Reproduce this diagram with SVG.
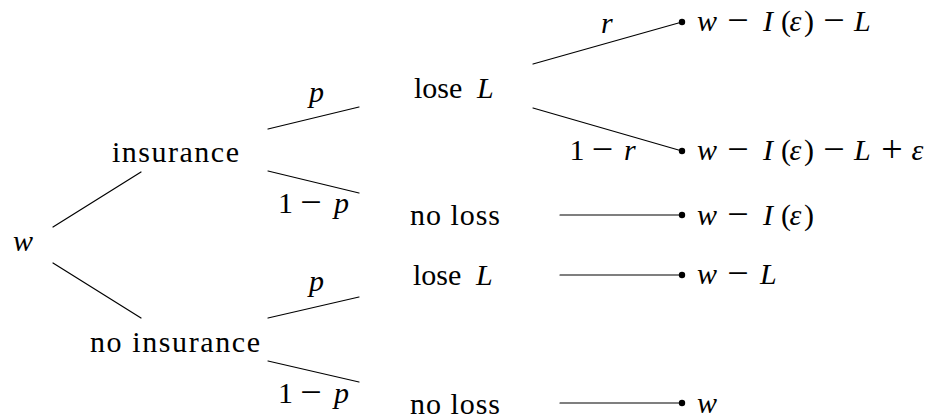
<svg xmlns="http://www.w3.org/2000/svg" width="932" height="420" viewBox="0 0 932 420">
<style>
text { font-family: "Liberation Serif", "Times New Roman", serif; font-size: 30px; fill: #000; }
.it { font-style: italic; }
.op { font-size: 38px; }
.edge { stroke: #000; stroke-width: 1.2; fill: none; stroke-linecap: round; }
.dot { fill: #000; }
</style>
<rect width="932" height="420" fill="#fff"/>
<g id="connectors">
  <line class="edge" x1="53" y1="227" x2="141" y2="172"/>
  <line class="edge" x1="53" y1="263" x2="141" y2="318"/>
  <line class="edge" x1="268" y1="129" x2="359" y2="107"/>
  <line class="edge" x1="268" y1="171" x2="359" y2="193"/>
  <line class="edge" x1="268" y1="318" x2="359" y2="297"/>
  <line class="edge" x1="268" y1="361" x2="359" y2="382"/>
  <line class="edge" x1="533" y1="64" x2="682" y2="22"/>
  <line class="edge" x1="533" y1="108" x2="682" y2="151"/>
  <line class="edge" x1="560" y1="215" x2="682" y2="215"/>
  <line class="edge" x1="560" y1="275" x2="682" y2="275"/>
  <line class="edge" x1="560" y1="403" x2="682" y2="403"/>
</g>
<g id="edge-labels">
  <text class="it" x="309" y="102">p</text>
  <text y="213"><tspan x="278">1</tspan><tspan class="op" x="300.3" y="215">−</tspan><tspan class="it" x="334" y="213">p</tspan></text>
  <text class="it" x="309" y="291">p</text>
  <text y="403"><tspan x="278">1</tspan><tspan class="op" x="300.3" y="405">−</tspan><tspan class="it" x="334" y="403">p</tspan></text>
  <text class="it" x="601" y="33">r</text>
  <text y="160"><tspan x="569.5">1</tspan><tspan class="op" x="591.8" y="162">−</tspan><tspan class="it" x="624" y="160">r</tspan></text>
</g>
<g id="node-root"><text class="it" x="13" y="251">w</text></g>
<g id="node-insurance"><text x="112" y="162" textLength="127">insurance</text></g>
<g id="node-no-insurance"><text x="90" y="352" textLength="170">no insurance</text></g>
<g id="node-ins-lose"><text y="98"><tspan x="414">lose</tspan><tspan class="it" x="477">L</tspan></text></g>
<g id="node-ins-noloss"><text x="410" y="225" textLength="90">no loss</text></g>
<g id="node-noins-lose"><text y="285"><tspan x="413">lose</tspan><tspan class="it" x="476">L</tspan></text></g>
<g id="node-noins-noloss"><text x="410" y="414" textLength="90">no loss</text></g>
<g id="outcome-1">
  <circle class="dot" cx="682" cy="22" r="3.2"/>
  <text y="31"><tspan class="it" x="697">w</tspan><tspan class="op" x="727.3" y="33">−</tspan><tspan class="it" x="763" y="31">I</tspan><tspan x="781">(</tspan><tspan class="it" x="789.5">ε</tspan><tspan x="804">)</tspan><tspan class="op" x="823.3" y="33">−</tspan><tspan class="it" x="854" y="31">L</tspan></text>
</g>
<g id="outcome-2">
  <circle class="dot" cx="682" cy="151" r="3.2"/>
  <text y="160"><tspan class="it" x="697">w</tspan><tspan class="op" x="727.3" y="162">−</tspan><tspan class="it" x="763" y="160">I</tspan><tspan x="781">(</tspan><tspan class="it" x="789.5">ε</tspan><tspan x="804">)</tspan><tspan class="op" x="823.3" y="162">−</tspan><tspan class="it" x="854" y="160">L</tspan><tspan class="op" x="881.3" y="162">+</tspan><tspan class="it" x="911.5" y="160">ε</tspan></text>
</g>
<g id="outcome-3">
  <circle class="dot" cx="682" cy="215" r="3.2"/>
  <text y="225"><tspan class="it" x="697">w</tspan><tspan class="op" x="727.3" y="227">−</tspan><tspan class="it" x="763" y="225">I</tspan><tspan x="781">(</tspan><tspan class="it" x="789.5">ε</tspan><tspan x="804">)</tspan></text>
</g>
<g id="outcome-4">
  <circle class="dot" cx="682" cy="275" r="3.2"/>
  <text y="284"><tspan class="it" x="697">w</tspan><tspan class="op" x="727.3" y="286">−</tspan><tspan class="it" x="760" y="284">L</tspan></text>
</g>
<g id="outcome-5">
  <circle class="dot" cx="682" cy="403" r="3.2"/>
  <text class="it" x="697" y="413">w</text>
</g>
</svg>
